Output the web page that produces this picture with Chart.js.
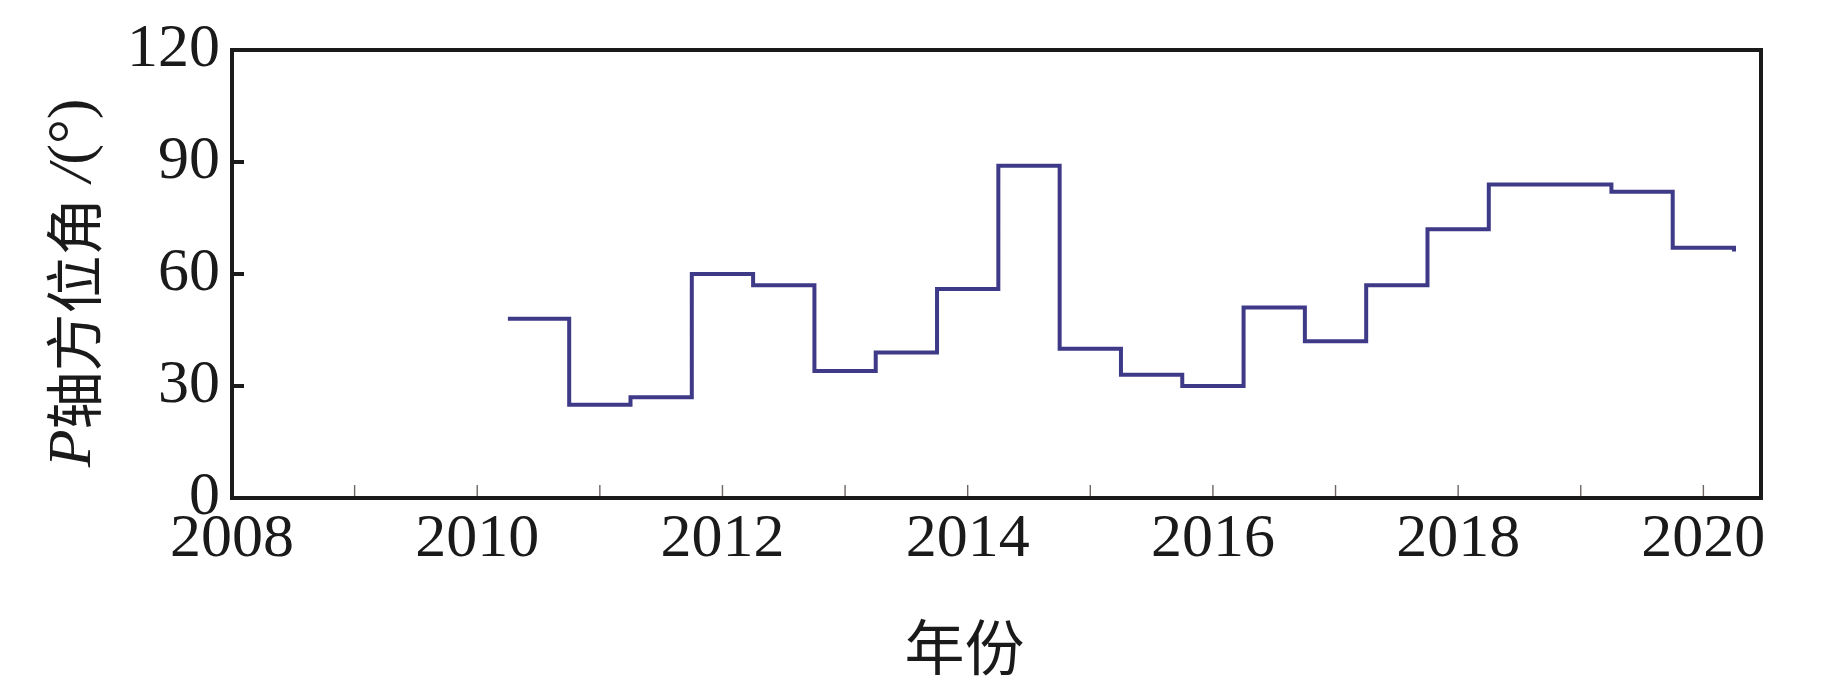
<!DOCTYPE html>
<html>
<head>
<meta charset="utf-8">
<title>P轴方位角</title>
<script src="https://cdn.jsdelivr.net/npm/chart.js@4/dist/chart.umd.min.js"></script>
<style>
    html, body { margin: 0; padding: 0; background: #ffffff; }
    #wrap { width: 1842px; height: 685px; }
</style>
</head>
<body>
<div id="wrap"><canvas id="azimuthChart" width="1842" height="685"></canvas></div>
<script>
// Half-year steps: each value holds from its start year until the next one
const stepStarts = [2010.25, 2010.75, 2011.25, 2011.75, 2012.25, 2012.75, 2013.25,
    2013.75, 2014.25, 2014.75, 2015.25, 2015.75, 2016.25, 2016.75, 2017.25,
    2017.75, 2018.25, 2018.75, 2019.25, 2019.75, 2020.25];
const azimuthValues = [48, 25, 27, 60, 57, 34, 39, 56, 89, 40, 33, 30, 51, 42,
    57, 72, 84, 84, 82, 67, 66];

const yTicks = [0, 30, 60, 90, 120];
const xTickLabels = ['2008', '2010', '2012', '2014', '2016', '2018', '2020'];

const xTitle = '年份';
const yTitleParts = [
    { text: 'P', font: 'italic 62px "Liberation Serif"' },
    { text: '轴方位角', font: '58px "Noto Sans CJK SC"' },
    { text: ' /', font: 'italic 62px "Liberation Serif"' },
    { text: '(°)', font: '62px "Liberation Serif"' }
];

const INK = '#1a1a1a';
const LINE = '#3f3a88';

// Frame, inner tick marks and axis titles
const framePlugin = {
    id: 'framePlugin',
    afterDatasetsDraw(chart) {
        const { ctx, chartArea: a, scales: { x, y } } = chart;
        ctx.save();

        // minor year ticks along the bottom, pointing inwards
        ctx.strokeStyle = '#6e6663';
        ctx.lineWidth = 1.4;
        x.ticks.forEach(t => {
            const px = x.getPixelForValue(t.value);
            if (px <= a.left + 2 || px >= a.right - 2) return;
            ctx.beginPath();
            ctx.moveTo(px, a.bottom);
            ctx.lineTo(px, a.bottom - 13);
            ctx.stroke();
        });

        // value ticks on the left, pointing inwards
        ctx.strokeStyle = INK;
        ctx.lineWidth = 4;
        yTicks.forEach(v => {
            if (v === 0 || v === 120) return;
            const py = y.getPixelForValue(v);
            ctx.beginPath();
            ctx.moveTo(a.left, py);
            ctx.lineTo(a.left + 12, py);
            ctx.stroke();
        });

        // box around the plot
        ctx.strokeRect(a.left, a.top, a.right - a.left, a.bottom - a.top);
        ctx.restore();
    },
    afterDraw(chart) {
        const { ctx, chartArea: a } = chart;
        ctx.save();
        ctx.fillStyle = INK;
        ctx.textBaseline = 'middle';

        // x title
        ctx.font = '60px "Noto Sans CJK SC"';
        ctx.textAlign = 'center';
        ctx.fillText(xTitle, (a.left + a.right) / 2 - 32, 647);

        // y title, rotated, mixed fonts
        ctx.translate(74, 283);
        ctx.rotate(-Math.PI / 2);
        ctx.textAlign = 'left';
        let total = 0;
        yTitleParts.forEach(p => {
            ctx.font = p.font;
            p.w = ctx.measureText(p.text).width;
            total += p.w;
        });
        let cx = -total / 2;
        yTitleParts.forEach(p => {
            ctx.font = p.font;
            ctx.fillText(p.text, cx, 0);
            cx += p.w;
        });
        ctx.restore();
    }
};

const points = stepStarts.map((yr, i) => ({ x: yr, y: azimuthValues[i] }));

const tickFont = { family: '"Liberation Serif", "Times New Roman", serif', size: 62, lineHeight: 1.2 };

new Chart(document.getElementById('azimuthChart').getContext('2d'), {
    type: 'line',
    data: {
        datasets: [{
            data: points,
            stepped: true,
            borderColor: LINE,
            borderWidth: 4,
            borderJoinStyle: 'miter',
            borderCapStyle: 'butt',
            pointRadius: 0,
            fill: false,
            tension: 0
        }]
    },
    options: {
        responsive: false,
        animation: false,
        layout: {
            padding: { top: 50, right: 81, left: 0, bottom: 0 }
        },
        plugins: {
            legend: { display: false },
            tooltip: { enabled: false }
        },
        scales: {
            x: {
                type: 'linear',
                min: 2008,
                max: 2020.47,
                grid: { display: false, drawTicks: false },
                border: { display: false },
                ticks: {
                    stepSize: 1,
                    includeBounds: false,
                    autoSkip: false,
                    maxRotation: 0,
                    padding: 5,
                    color: INK,
                    font: tickFont,
                    callback: value => xTickLabels.includes(String(value)) ? String(value) : ''
                },
                afterFit: scale => { scale.height = 187; }
            },
            y: {
                min: 0,
                max: 120,
                grid: { display: false, drawTicks: false },
                border: { display: false },
                ticks: {
                    stepSize: 30,
                    padding: 12,
                    color: INK,
                    font: tickFont
                },
                afterFit: scale => { scale.width = 232; }
            }
        }
    },
    plugins: [framePlugin]
});
</script>
</body>
</html>
